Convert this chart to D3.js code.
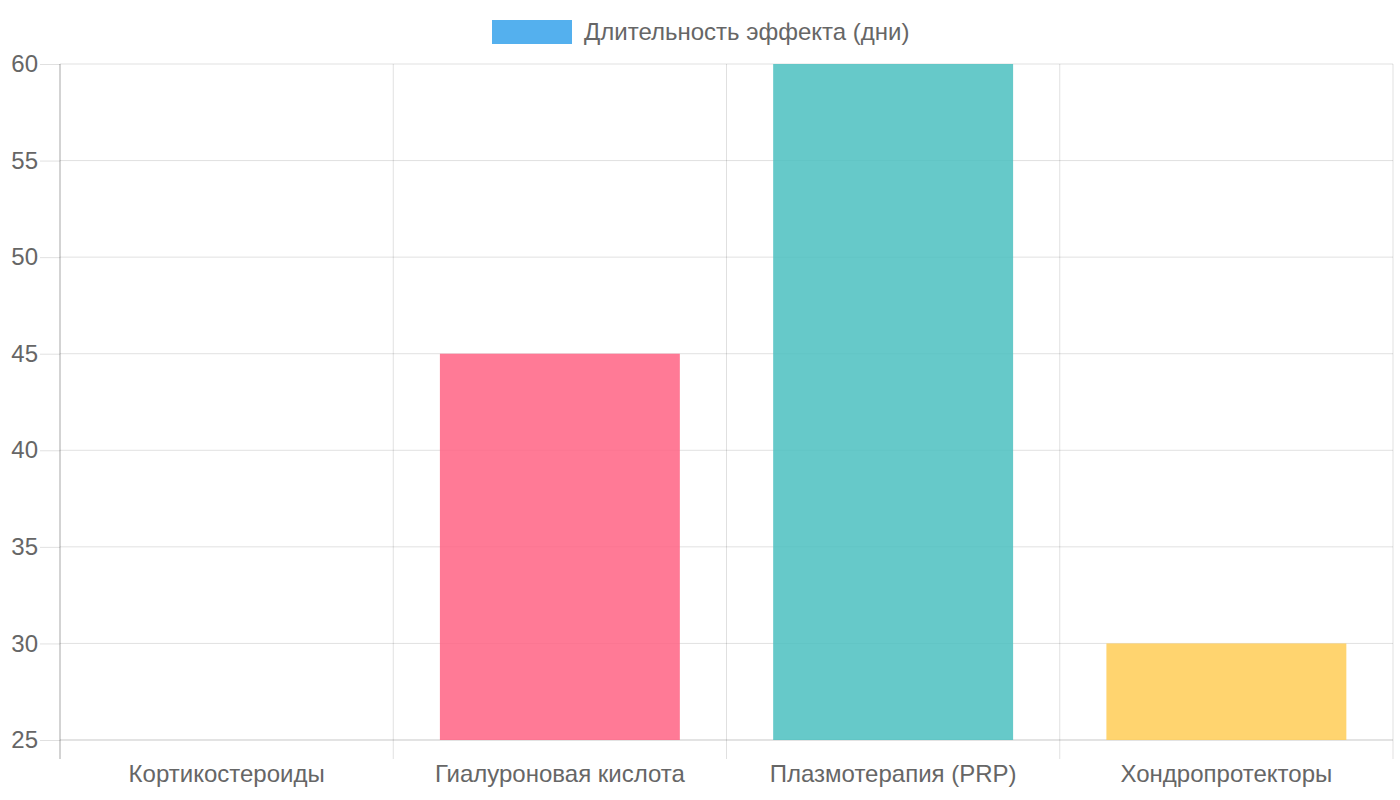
<!DOCTYPE html>
<html><head><meta charset="utf-8">
<script src="https://cdn.jsdelivr.net/npm/d3@7/dist/d3.min.js"></script>
<style>html,body{margin:0;padding:0;background:#fff;}svg{display:block;}svg text{font-family:"Liberation Sans",Arial,sans-serif;}</style>
</head><body>
<svg id="chart" width="1400" height="800"></svg>
<script>
const categories = ["Кортикостероиды", "Гиалуроновая кислота", "Плазмотерапия (PRP)", "Хондропротекторы"];
const values = [21, 45, 60, 30];
const seriesName = "Длительность эффекта (дни)";
const barColors = ["rgba(54,162,235,0.85)", "rgba(255,99,132,0.85)", "rgba(75,192,192,0.85)", "rgba(255,205,86,0.85)"];
const yTicks = [25, 30, 35, 40, 45, 50, 55, 60];

(function () {
const svg = d3.select("#chart");
const mLeft = 60, mRight = 1393, mTop = 64, mBottom = 740;
const FONT = '"Liberation Sans", Arial, sans-serif';
const GRID = "rgba(0,0,0,0.12)";
const x = d3.scaleBand().domain(categories).range([mLeft, mRight]).paddingInner(0).paddingOuter(0);
const y = d3.scaleLinear().domain([25, 60]).range([mBottom, mTop]);

svg.append("defs").append("clipPath").attr("id", "clip")
  .append("rect").attr("x", mLeft).attr("y", mTop).attr("width", mRight - mLeft).attr("height", mBottom - mTop);

const gy = svg.append("g").attr("transform", `translate(${mLeft},0)`)
  .call(d3.axisLeft(y).tickValues(yTicks).tickSize(20).tickPadding(2).tickFormat(d3.format("d")));
gy.attr("font-family", FONT);
gy.select(".domain").remove();
gy.selectAll(".tick line").attr("stroke", GRID).attr("stroke-width", 1);
gy.selectAll(".tick text").attr("fill", "#666").style("font-size", "24px");
svg.append("g").selectAll("line").data(yTicks).join("line")
  .attr("x1", mLeft).attr("x2", mRight).attr("y1", d => y(d)).attr("y2", d => y(d))
  .attr("stroke", d => d === 25 ? "rgba(0,0,0,0.22)" : GRID).attr("stroke-width", 1);

const bounds = categories.map(c => x(c)).concat([mRight]);
svg.append("g").selectAll("line").data(bounds).join("line")
  .attr("x1", d => d).attr("x2", d => d).attr("y1", mTop).attr("y2", mBottom + 19)
  .attr("stroke", (d, i) => i === 0 ? "rgba(0,0,0,0.35)" : GRID).attr("stroke-width", 1);

const bw = x.bandwidth() * 0.72;
svg.append("g").attr("clip-path", "url(#clip)").selectAll("rect").data(values).join("rect")
  .attr("x", (d, i) => x(categories[i]) + (x.bandwidth() - bw) / 2)
  .attr("width", bw)
  .attr("y", d => Math.min(y(d), y(25)))
  .attr("height", d => Math.abs(y(25) - y(d)))
  .attr("fill", (d, i) => barColors[i]);

const gx = svg.append("g").attr("transform", `translate(0,${mBottom})`)
  .call(d3.axisBottom(x).tickSize(0).tickPadding(25));
gx.attr("font-family", FONT);
gx.select(".domain").remove();
gx.selectAll(".tick text").attr("fill", "#666").style("font-size", "24px");

const lg = svg.append("g");
lg.append("rect").attr("x", 492).attr("y", 20).attr("width", 80).attr("height", 24).attr("fill", barColors[0]);
lg.append("text").attr("x", 584).attr("y", 40).attr("fill", "#666").attr("font-family", FONT).style("font-size", "24px").text(seriesName);
})();
</script>
</body></html>
